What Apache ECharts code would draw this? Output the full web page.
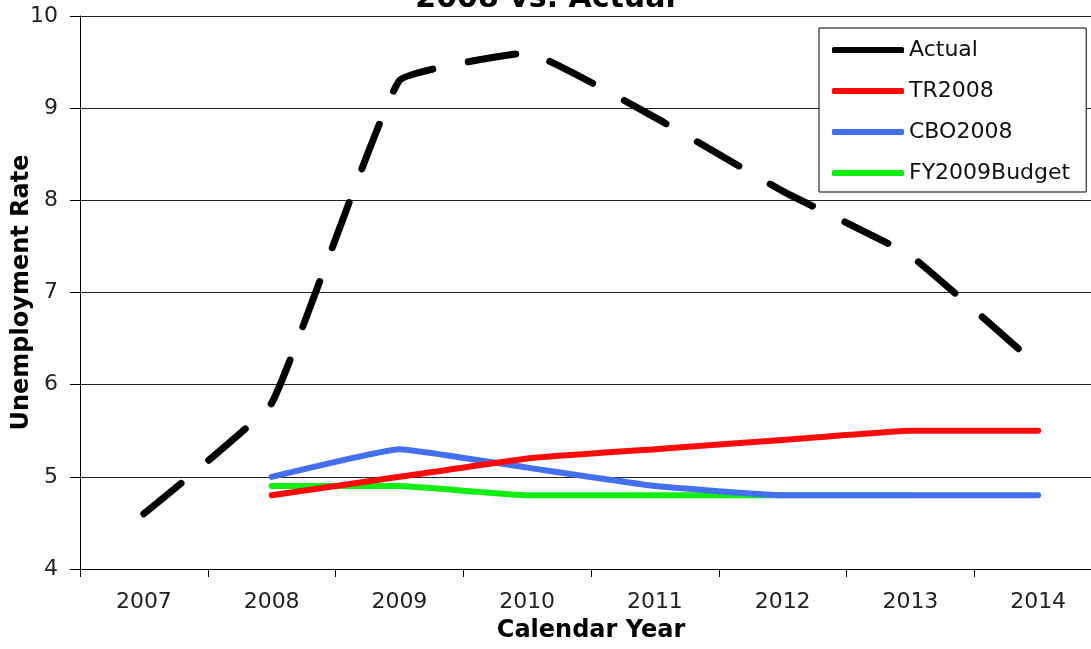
<!DOCTYPE html>
<html>
<head>
<meta charset="utf-8">
<title>Unemployment Rate: 2008 vs. Actual</title>
<script src="https://cdn.jsdelivr.net/npm/echarts@6/dist/echarts.min.js"></script>
<style>
  html, body { margin: 0; padding: 0; background: #fff; }
  #chart { width: 1091px; height: 649px; }
</style>
</head>
<body>
<div id="chart"></div>
<script>
// Calendar years on the x axis
const years = ['2007', '2008', '2009', '2010', '2011', '2012', '2013', '2014'];

// Unemployment rate (%) per year; null where a series has no value
const actual       = [4.6, 5.8, 9.3, 9.6, 8.9, 8.1, 7.4, 6.2];
const tr2008       = [null, 4.8, 5.0, 5.2, 5.3, 5.4, 5.5, 5.5];
const cbo2008      = [null, 5.0, 5.3, 5.1, 4.9, 4.8, 4.8, 4.8];
const fy2009Budget = [null, 4.9, 4.9, 4.8, 4.8, 4.8, 4.8, null];

// Y axis range
const yMin = 4, yMax = 10, yStep = 1;

const tickFont = 'DejaVu Sans';
const nameFont = 'DejaVu Sans';

const chart = echarts.init(document.getElementById('chart'), null, { renderer: 'canvas' });

function lineSeries(name, data, color, extra) {
  return Object.assign({
    name: name,
    type: 'line',
    data: data,
    smooth: 0.1,
    showSymbol: false,
    symbol: 'none',
    connectNulls: false,
    lineStyle: { color: color, width: 6, cap: 'round', join: 'round' },
    itemStyle: { color: color },
    emphasis: { disabled: true }
  }, extra || {});
}

chart.setOption({
  animation: false,
  backgroundColor: '#ffffff',
  title: {
    text: '2008 vs. Actual',
    left: 'center',
    top: -21,
    textStyle: { fontFamily: nameFont, fontWeight: 'bold', fontSize: 30, color: '#000' }
  },
  grid: { left: 80, top: 16, width: 1022, height: 553, outerBoundsMode: 'none', containLabel: false },
  legend: {
    orient: 'vertical',
    left: 819,
    top: 28,
    padding: [11, 16, 8, 13],
    itemWidth: 72,
    itemHeight: 6,
    itemGap: 19,
    icon: 'roundRect',
    backgroundColor: '#ffffff',
    borderColor: '#000000',
    borderWidth: 1,
    borderRadius: 0,
    textStyle: { fontFamily: tickFont, fontSize: 22, color: '#111', lineHeight: 22 },
    data: ['Actual', 'TR2008', 'CBO2008', 'FY2009Budget']
  },
  xAxis: {
    type: 'category',
    data: years,
    boundaryGap: true,
    name: 'Calendar Year',
    nameLocation: 'middle',
    nameGap: 50,
    nameMoveOverlap: false,
    nameTextStyle: { fontFamily: nameFont, fontWeight: 'bold', fontSize: 24, color: '#000' },
    axisLine: { show: true, lineStyle: { color: '#000', width: 1 } },
    axisTick: { show: true, alignWithLabel: false, length: 8, lineStyle: { color: '#000' } },
    axisLabel: { margin: 22, fontFamily: tickFont, fontSize: 22, color: '#222' },
    splitLine: { show: false }
  },
  yAxis: {
    type: 'value',
    min: yMin,
    max: yMax,
    interval: yStep,
    name: 'Unemployment Rate',
    nameLocation: 'middle',
    nameGap: 46,
    nameMoveOverlap: false,
    nameTextStyle: { fontFamily: nameFont, fontWeight: 'bold', fontSize: 24, color: '#000' },
    axisLine: { show: true, lineStyle: { color: '#000', width: 1 } },
    axisTick: { show: true, length: 10, lineStyle: { color: '#000' } },
    axisLabel: { margin: 22, fontFamily: tickFont, fontSize: 22, color: '#222' },
    splitLine: { show: true, lineStyle: { color: '#222', width: 1 } }
  },
  series: [
    lineSeries('FY2009Budget', fy2009Budget, '#11ee11', { z: 2 }),
    lineSeries('CBO2008', cbo2008, '#4470f0', { z: 3 }),
    lineSeries('TR2008', tr2008, '#ff0a0a', { z: 4 }),
    lineSeries('Actual', actual, '#000000', {
      z: 5,
      lineStyle: { color: '#000', width: 7, type: [48, 36], cap: 'round', join: 'round' }
    })
  ]
});
</script>
</body>
</html>
